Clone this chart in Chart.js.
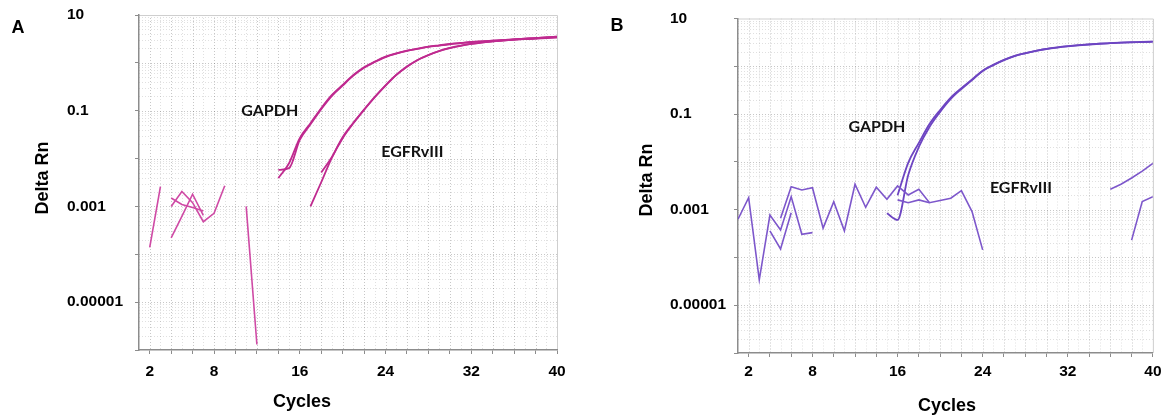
<!DOCTYPE html>
<html>
<head>
<meta charset="utf-8">
<script src="https://cdn.jsdelivr.net/npm/chart.js@4.4.1/dist/chart.umd.min.js"></script>
<style>
  body { margin: 0; background: #fff; }
  #wrap { position: relative; width: 1167px; height: 416px; overflow: hidden; background: #fff;
          font-family: "Liberation Sans", Arial, sans-serif; }
  canvas { position: absolute; top: 0; }
  #chartA { left: 0; }
  #chartB { left: 583px; }
  .txt { position: absolute; font-weight: bold; color: #000; white-space: nowrap; font-size: 18px;
         transform: translate(-50%, -50%); line-height: 1; }
  .rot { transform: translate(-50%, -50%) rotate(-90deg); }
</style>
</head>
<body>
<div id="wrap">
  <canvas id="chartA" width="583" height="416"></canvas>
  <canvas id="chartB" width="584" height="416"></canvas>
  <div class="txt" style="left:18px;top:27px;">A</div>
  <div class="txt" style="left:617px;top:25px;">B</div>
  <div class="txt rot" style="left:42px;top:178px;">Delta Rn</div>
  <div class="txt rot" style="left:646px;top:180px;">Delta Rn</div>
  <div class="txt" style="left:302px;top:401px;">Cycles</div>
  <div class="txt" style="left:947px;top:405px;">Cycles</div>
</div>
<script>
// Amplification plots: Delta Rn (log scale) against PCR cycle number.

// Axes
const cycleMin = 1;
const cycleMax = 40;
const xTickValues = [2, 4, 6, 8, 10, 12, 14, 16, 18, 20, 22, 24, 26, 28, 30, 32, 34, 36, 38, 40];
const xTickLabels = [2, 8, 16, 24, 32, 40];
const yDecades = [1e-6, 1e-5, 1e-4, 1e-3, 1e-2, 1e-1, 1, 10];
const yTickLabels = ['10', '0.1', '0.001', '0.00001'];

// Panel A – each trace: first cycle, then one Delta Rn value per cycle
const aNoise1Start = 2;
const aNoise1 = [1.4e-4, 2.6e-3];
const aNoise2Start = 4;
const aNoise2 = [1.5e-3, 1.1e-3, 9.5e-4, 8.0e-4];
const aNoise3Start = 4;
const aNoise3 = [1.0e-3, 2.05e-3, 1.2e-3, 4.8e-4, 7.2e-4, 2.7e-3];
const aNoise4Start = 4;
const aNoise4 = [2.2e-4, 6.2e-4, 1.8e-3, 6.5e-4];
const aNoise5Start = 11;
const aNoise5 = [1.0e-3, 1.3e-6];
const aGapdh1Start = 14;
const aGapdh1 = [3.9e-3, 8.0e-3, 0.0267, 0.0548, 0.113, 0.214, 0.346, 0.558, 0.81, 1.06, 1.35, 1.58, 1.80,
                 1.98, 2.18, 2.33, 2.48, 2.60, 2.73, 2.82, 2.90, 3.00, 3.11, 3.20, 3.27, 3.40, 3.52];
const aGapdh2Start = 14;
const aGapdh2 = [5.8e-3, 6.3e-3, 0.0245, 0.052, 0.108, 0.205, 0.335, 0.54, 0.79, 1.04, 1.32, 1.56, 1.78,
                 1.96, 2.15, 2.30, 2.45, 2.58, 2.70, 2.80, 2.90, 2.98, 3.07, 3.15, 3.22, 3.30, 3.38];
const aEgfr1Start = 17;
const aEgfr1 = [1.0e-3, 3.2e-3, 0.0105, 0.0267, 0.0548, 0.104, 0.191, 0.334, 0.558, 0.83, 1.15, 1.46,
                1.77, 2.05, 2.30, 2.50, 2.68, 2.82, 2.95, 3.08, 3.20, 3.30, 3.42, 3.55];
const aEgfr2Start = 18;
const aEgfr2 = [5.1e-3, 0.0108, 0.028, 0.056, 0.106, 0.195, 0.34, 0.56, 0.84, 1.15, 1.45, 1.75,
                2.02, 2.27, 2.48, 2.66, 2.80, 2.93, 3.05, 3.15, 3.25, 3.35, 3.45];

// Panel B
const bNoise1Start = 1;
const bNoise1 = [6.3e-4, 1.78e-3, 3.4e-5, 7.7e-4, 3.76e-4, 1.87e-3, 3.05e-4, 3.3e-4];
const bNoise2Start = 4;
const bNoise2 = [3.6e-4, 1.5e-4, 8.6e-4];
const bNoise3Start = 5;
const bNoise3 = [6.6e-4, 3.0e-3, 2.58e-3, 2.88e-3, 4.1e-4, 1.47e-3, 3.6e-4, 3.4e-3, 1.12e-3, 2.94e-3,
                 1.65e-3, 3.13e-3, 2.03e-3, 2.67e-3, 1.4e-3, 1.56e-3, 1.73e-3, 2.5e-3, 9.1e-4, 1.44e-4];
const bNoise4Start = 16;
const bNoise4 = [1.6e-3, 1.4e-3, 1.6e-3, 1.4e-3];
const bNoise5Start = 36;
const bNoise5 = [2.67e-3, 3.4e-3, 4.6e-3, 6.4e-3, 9.3e-3];
const bNoise6Start = 38;
const bNoise6 = [2.3e-4, 1.47e-3, 1.87e-3];
const bGapdh1Start = 15;
const bGapdh1 = [8.4e-4, 6.1e-4, 5.3e-3, 0.0205, 0.0537, 0.111, 0.207, 0.335, 0.516, 0.798, 1.06, 1.35,
                 1.64, 1.87, 2.09, 2.30, 2.47, 2.62, 2.75, 2.86, 2.96, 3.04, 3.12, 3.18, 3.22, 3.27];
const bGapdh2Start = 16;
const bGapdh2 = [2.0e-3, 9.5e-3, 0.025, 0.062, 0.122, 0.222, 0.35, 0.53, 0.81, 1.07, 1.36, 1.65,
                 1.88, 2.10, 2.31, 2.48, 2.63, 2.76, 2.87, 2.97, 3.05, 3.13, 3.19, 3.23, 3.28];

// Gene name labels
const geneNames = ['GAPDH', 'EGFRvIII'];

function points(start, values) {
  return values.map((v, i) => ({ x: start + i, y: v }));
}

function trace(start, values, color, width, smooth) {
  return {
    data: points(start, values),
    borderColor: color,
    borderWidth: width,
    pointRadius: 0,
    fill: false,
    tension: 0,
    cubicInterpolationMode: smooth ? 'monotone' : 'default'
  };
}

const tickFont = { family: '"Liberation Sans", Arial, sans-serif', size: 15.5, weight: 'bold' };

// Dotted background grid and light frame around the plot area
const dotGrid = {
  id: 'dotGrid',
  beforeDraw(chart) {
    const { ctx, chartArea: a, scales: { x, y } } = chart;
    ctx.save();
    ctx.lineWidth = 1;
    ctx.setLineDash([1, 2]);
    for (let c = cycleMin + 1; c < cycleMax; c++) {
      const px = Math.round(x.getPixelForValue(c)) + 0.5;
      ctx.strokeStyle = c % 2 === 0 ? 'rgba(0,0,0,0.22)' : 'rgba(0,0,0,0.12)';
      ctx.beginPath(); ctx.moveTo(px, a.top); ctx.lineTo(px, a.bottom); ctx.stroke();
    }
    for (let e = -6; e <= 0; e++) {
      for (let m = 1; m <= 9; m++) {
        const v = m * Math.pow(10, e);
        if (e === -6 && m === 1) continue;
        const py = Math.round(y.getPixelForValue(v)) + 0.5;
        ctx.strokeStyle = m === 1 ? 'rgba(0,0,0,0.22)' : 'rgba(0,0,0,0.12)';
        ctx.beginPath(); ctx.moveTo(a.left, py); ctx.lineTo(a.right, py); ctx.stroke();
      }
    }
    ctx.setLineDash([]);
    ctx.strokeStyle = '#cfcfcf';
    ctx.beginPath();
    ctx.moveTo(a.left, a.top + 0.5); ctx.lineTo(a.right + 0.5, a.top + 0.5); ctx.lineTo(a.right + 0.5, a.bottom);
    ctx.stroke();
    ctx.restore();
  }
};

// Gene names placed at data coordinates
const geneLabels = {
  id: 'geneLabels',
  afterDatasetsDraw(chart, args, opts) {
    const { ctx, scales: { x, y } } = chart;
    ctx.save();
    ctx.font = 'bold 16px Lato, "Open Sans", sans-serif';
    ctx.fillStyle = '#111';
    ctx.textAlign = 'center';
    ctx.textBaseline = 'middle';
    (opts.items || []).forEach(it => {
      ctx.fillText(it.text, x.getPixelForValue(it.cycle), y.getPixelForValue(it.value));
    });
    ctx.restore();
  }
};

function makeChart(id, datasets, labels, L) {
  return new Chart(document.getElementById(id), {
    type: 'line',
    data: { datasets },
    options: {
      responsive: false,
      animation: false,
      events: [],
      layout: { padding: { left: L.padLeft, right: L.padRight, top: L.padTop, bottom: 0 } },
      plugins: { legend: { display: false }, tooltip: { enabled: false }, geneLabels: { items: labels } },
      scales: {
        x: {
          type: 'linear', min: cycleMin, max: cycleMax,
          afterBuildTicks: s => { s.ticks = xTickValues.map(v => ({ value: v })); },
          afterFit: s => { s.height = L.xAxisHeight; },
          grid: { drawOnChartArea: false, drawTicks: true, tickLength: 4, tickColor: '#8c8c8c', lineWidth: 1 },
          border: { display: true, color: '#8c8c8c', width: 1.5 },
          ticks: {
            autoSkip: false, maxRotation: 0, minRotation: 0, padding: L.xTickPad, color: '#000', font: tickFont,
            callback: v => xTickLabels.includes(v) ? String(v) : ''
          }
        },
        y: {
          type: 'logarithmic', min: yDecades[0], max: yDecades[yDecades.length - 1],
          afterBuildTicks: s => { s.ticks = yDecades.map(v => ({ value: v })); },
          afterFit: s => { s.width = L.yAxisWidth; },
          grid: { drawOnChartArea: false, drawTicks: true, tickLength: 4, tickColor: '#8c8c8c', lineWidth: 1 },
          border: { display: true, color: '#8c8c8c', width: 1.5 },
          ticks: {
            autoSkip: false, crossAlign: 'far', padding: 4, color: '#000', font: tickFont,
            callback: v => {
              const e = Math.round(Math.log10(v));
              const lbl = e >= 0 ? String(Math.pow(10, e)) : Math.pow(10, e).toFixed(-e);
              return yTickLabels.includes(lbl) ? lbl : '';
            }
          }
        }
      }
    },
    plugins: [dotGrid, geneLabels]
  });
}

const magenta = '#bf2a8f';
const magentaLight = '#cf4aa5';
const violet = '#6d45c2';
const violetLight = '#7d57cb';

makeChart('chartA', [
  trace(aNoise1Start, aNoise1, magentaLight, 1.6, false),
  trace(aNoise2Start, aNoise2, magentaLight, 1.6, false),
  trace(aNoise3Start, aNoise3, magentaLight, 1.6, false),
  trace(aNoise4Start, aNoise4, magentaLight, 1.6, false),
  trace(aNoise5Start, aNoise5, magentaLight, 1.6, false),
  trace(aEgfr2Start, aEgfr2, magenta, 1.8, true),
  trace(aEgfr1Start, aEgfr1, magenta, 1.8, true),
  trace(aGapdh2Start, aGapdh2, magenta, 1.8, true),
  trace(aGapdh1Start, aGapdh1, magenta, 1.8, true)
], [
  { text: geneNames[0], cycle: 13.2, value: 0.1 },
  { text: geneNames[1], cycle: 26.5, value: 0.014 }
], { padLeft: 67, padRight: 26, padTop: 15, yAxisWidth: 72, xAxisHeight: 66, xTickPad: 8.5 });

makeChart('chartB', [
  trace(bNoise1Start, bNoise1, violetLight, 1.6, false),
  trace(bNoise2Start, bNoise2, violetLight, 1.6, false),
  trace(bNoise3Start, bNoise3, violetLight, 1.6, false),
  trace(bNoise4Start, bNoise4, violetLight, 1.6, false),
  trace(bNoise5Start, bNoise5, violetLight, 1.6, false),
  trace(bNoise6Start, bNoise6, violetLight, 1.6, false),
  trace(bGapdh2Start, bGapdh2, violet, 1.8, true),
  trace(bGapdh1Start, bGapdh1, violet, 1.8, true)
], [
  { text: geneNames[0], cycle: 14.06, value: 0.0545 },
  { text: geneNames[1], cycle: 27.6, value: 0.00285 }
], { padLeft: 87, padRight: 9, padTop: 18.5, yAxisWidth: 68, xAxisHeight: 63, xTickPad: 5.5 });
</script>
</body>
</html>
